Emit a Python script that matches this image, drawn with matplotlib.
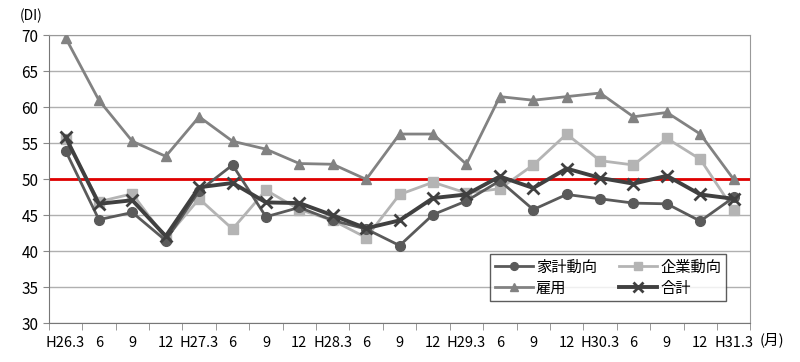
import matplotlib
matplotlib.use("Agg")
import matplotlib.pyplot as plt
import numpy as np

plt.rcParams['font.family'] = ['Noto Sans CJK JP', 'DejaVu Sans']

# data
periods = ["H26.3", "6", "9", "12", "H27.3", "6", "9", "12", "H28.3", "6", "9",
           "12", "H29.3", "6", "9", "12", "H30.3", "6", "9", "12", "H31.3"]
kakei = [54.0, 44.4, 45.4, 41.5, 48.4, 52.0, 44.8, 46.1, 44.3, 43.1, 40.8,
         45.1, 47.0, 49.8, 45.8, 47.9, 47.3, 46.7, 46.6, 44.2, 47.5]
kigyo = [55.6, 46.9, 48.0, 41.8, 47.3, 43.1, 48.5, 45.8, 44.3, 41.9, 47.9,
         49.6, 48.1, 48.7, 52.0, 56.3, 52.6, 52.0, 55.7, 52.8, 45.8]
koyo = [69.7, 61.0, 55.3, 53.2, 58.7, 55.3, 54.2, 52.2, 52.1, 50.0, 56.3,
        56.3, 52.1, 61.5, 61.0, 61.5, 62.0, 58.7, 59.3, 56.3, 50.0]
gokei = [55.9, 46.6, 47.1, 42.1, 48.9, 49.5, 46.8, 46.7, 45.0, 43.2, 44.3,
         47.4, 47.9, 50.4, 48.8, 51.5, 50.2, 49.4, 50.5, 47.9, 47.3]

fig = plt.figure(figsize=(8, 3.62), dpi=100)
ax = fig.add_axes([0.061, 0.107, 0.877, 0.795])

x = np.arange(len(periods))
l1, = ax.plot(x, kakei, color="#5a5a5a", lw=2, marker="o", ms=7, label="家計動向", zorder=4)
l2, = ax.plot(x, kigyo, color="#b4b4b4", lw=2, marker="s", ms=7, label="企業動向", zorder=3)
l3, = ax.plot(x, koyo, color="#828282", lw=2, marker="^", ms=7, label="雇用", zorder=3)
l4, = ax.plot(x, gokei, color="#404040", lw=2.8, marker="x", ms=9, mew=2, label="合計", zorder=5)
ax.axhline(50, color="#e00000", lw=2, zorder=2)

ax.set_xlim(-0.5, len(periods) - 0.5)
ax.set_ylim(30, 70)
ax.set_yticks(range(30, 71, 5))
ax.yaxis.grid(True, color="#b0b0b0", lw=1)
ax.set_axisbelow(True)

ax.set_xticks(x)
ax.set_xticklabels(periods, fontsize=10.5)
ax.set_xticks(np.arange(-0.5, len(periods), 1), minor=True)
ax.tick_params(axis="x", which="major", length=0, pad=9)
ax.tick_params(axis="x", which="minor", length=5, color="#888888")
ax.tick_params(axis="y", length=4, color="#888888", labelsize=11)

for s in ax.spines.values():
    s.set_color("#999999")
ax.spines["left"].set_color("#777777")
ax.spines["bottom"].set_color("#777777")

fig.text(0.025, 0.955, "(DI)", fontsize=10, va="center")
fig.text(0.95, 0.06, "(月)", fontsize=10.5, va="center")

# column-wise fill: row 1 = 家計動向, 企業動向 / row 2 = 雇用, 合計
leg = ax.legend([l1, l3, l2, l4], ["家計動向", "雇用", "企業動向", "合計"],
                ncol=2, loc="lower left", bbox_to_anchor=(0.618, 0.05, 0.358, 0.17),
                mode="expand", fontsize=11, frameon=True, fancybox=False,
                edgecolor="#333333", handlelength=2.5, borderpad=0.3,
                labelspacing=0.25, handletextpad=0.2, markerscale=0.8)
leg.get_frame().set_linewidth(1)

fig.savefig("out.png", dpi=100)
